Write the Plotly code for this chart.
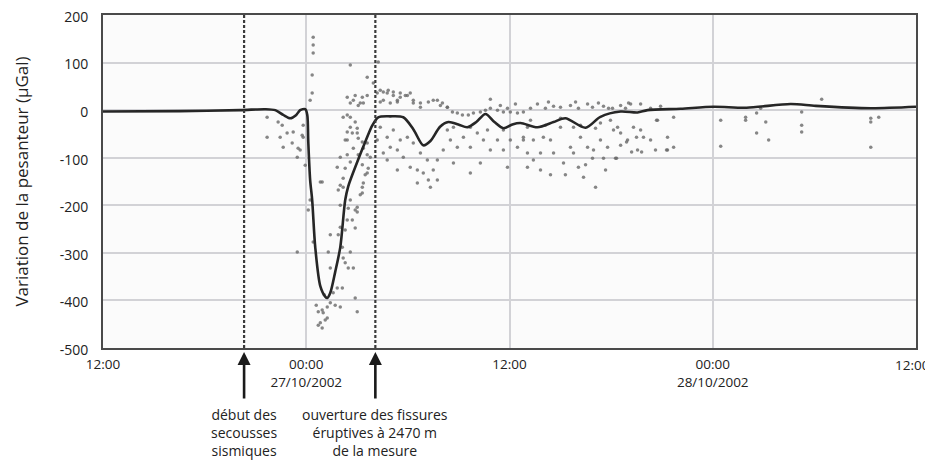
import pandas as pd
import plotly.graph_objects as go

# ---- data (hours after 26/10/2002 12:00, gravity variation in µGal) ----
line_h = [0, 4.55, 8.1, 9.57, 10.17, 10.64, 11.05, 11.41, 11.64, 11.94, 12.06,
          12.12, 12.23, 12.35, 12.53, 12.83, 13.12, 13.24, 13.42, 13.71, 14.01,
          14.30, 14.48, 15.01, 15.48, 15.90, 16.25, 16.96, 17.73, 18.32, 18.91,
          19.33, 19.90, 20.39, 20.98, 21.51, 22.04, 22.58, 23.11, 23.64, 24.17,
          24.65, 25.65, 26.60, 27.30, 28.49, 29.37, 30.56, 31.56, 32.15, 34.10,
          36.05, 38.00, 40.60, 42.08, 45.33, 48.0]
line_v = [-3, -2, 0, 2, 0, -10, -17, -10, 0, 2, -10,
          -67, -147, -189, -288, -370, -392, -395, -384, -340, -288,
          -189, -160, -109, -67, -32, -15, -13, -15, -40, -74,
          -65, -35, -25, -30, -36, -25, -8, -25, -38, -30,
          -27, -36, -25, -17, -37, -14, -3, -5, 0, 3,
          7, 5, 13, 9, 4, 7]

scatter_h = [
    9.69, 9.69, 10.34, 10.46, 10.58, 10.64, 10.87, 11.17, 11.23, 11.47, 11.52, 11.64,
    11.76, 11.82, 11.82, 11.94, 12.23, 12.35, 12.35, 12.41, 12.41, 12.41, 11.47, 12.94,
    12.23, 12.12, 12.41, 12.71, 12.94, 13.00, 13.24, 13.42, 12.83, 12.71, 13.59, 13.83,
    13.42, 13.30, 13.42, 13.89, 14.01, 14.13, 14.18, 14.30, 14.48, 14.78, 14.60, 14.30,
    14.42, 14.48, 14.72, 14.89, 14.89, 15.01, 15.19, 15.31, 15.37, 14.01, 13.89, 14.01,
    14.89, 15.01, 14.01, 14.13, 13.12, 12.94, 12.59, 13.24, 13.71, 13.06,
    14.60, 15.60, 14.89, 15.31, 15.60, 15.07, 14.60, 15.37, 14.42, 14.60, 14.89, 15.01,
    14.42, 14.72, 15.07, 15.31, 14.30, 14.78, 14.42, 14.60, 14.30, 14.18, 15.07, 15.37,
    15.60, 15.31, 15.66, 15.48, 16.25,
    15.96, 16.19, 16.55, 16.84, 17.14, 17.55, 17.85, 18.14, 16.37, 16.96, 17.38, 18.32,
    18.74, 19.21, 19.74, 20.04, 20.33, 20.63, 20.92, 21.22, 21.57, 21.87, 22.28, 22.58,
    22.87, 23.29, 23.64, 24.05, 24.47, 24.82,
    16.37, 16.78, 17.14, 17.55, 16.96, 17.38, 16.55, 16.19, 17.97, 18.32, 17.73, 18.14,
    18.56, 18.91, 19.21, 19.50, 19.33, 19.74, 20.09, 20.51, 20.92, 21.28, 21.69, 22.10,
    22.46, 22.87, 23.29, 23.64, 24.05, 24.47, 24.82, 20.33, 20.69, 21.69, 22.70, 23.64,
    18.74, 19.15, 20.69, 21.69, 22.28, 23.88, 17.38, 16.78, 19.74, 18.56, 22.87,
    25.65, 26.60, 27.60, 28.61, 29.55, 30.56, 31.15, 26.12, 28.07, 30.08, 32.92,
    24.82, 25.41, 26.00, 26.42, 25.06, 25.83, 26.60, 25.06, 25.83, 26.42, 27.19, 27.60,
    27.78, 28.19, 28.61, 28.96, 29.37, 29.79, 30.14, 30.38, 30.56, 28.07, 28.37, 28.90,
    29.08, 29.55, 30.26, 30.97, 31.32, 31.74, 31.56, 31.91, 33.33, 33.33, 33.69, 32.74,
    27.78, 27.01, 25.06, 29.37,
    31.03, 31.21, 31.80, 31.50, 30.91, 32.68, 33.27, 33.69, 30.32, 36.47, 36.47, 37.94,
    37.94, 38.59, 38.59, 39.13, 39.30, 41.25, 41.25, 41.25, 42.43, 45.33, 45.33, 45.33,
    45.80, 38.83,
    16.37, 16.78, 17.14, 17.55, 17.97, 16.55, 17.38, 18.32, 18.74, 19.50, 19.92, 20.33,
    14.42, 14.78, 15.19, 14.18, 14.60, 15.01, 14.42, 14.01, 13.83, 14.18, 14.60, 15.01,
    15.31, 15.60, 15.78, 15.60, 12.83,
    23.46, 23.88, 24.35, 25.24, 26.30, 27.01, 27.90, 28.90, 29.25, 29.85, 30.85, 31.74,
    32.33,
    25.24, 26.12, 27.01, 28.19, 29.08, 29.96, 25.41, 27.30, 28.49, 29.67, 30.56, 32.33,
    32.62,
]
scatter_v = [
    -15, -57, -25, -57, -32, -78, -48, -69, -46, -99, -80, -84,
    -53, -32, -57, -116, 21, 36, 74, 153, 137, 120, -298, -151,
    -189, -210, -277, -424, -420, -426, -414, -405, -447, -452, -384, -374,
    -332, -298, -262, -262, -246, -288, -311, -321, -332, -332, -298, -252,
    -231, -206, -231, -248, -210, -214, -178, -162, -153, -200, -168, -158,
    -395, -424, -414, -374, -441, -458, -410, -437, -410, -388,
    95, 69, 31, 27, 31, 10, 15, 15, -10, -15, -25, -38,
    -46, -48, -59, -67, -63, -80, -94, -109, -122, -143, -94, -80,
    -94, -115, -122, -136, 101,
    57, 36, 38, 42, 31, 36, 31, 36, 17, 15, 21, 15,
    6, 17, 21, 15, 6, -4, -6, -10, -10, -6, -4, 0,
    4, 0, -4, -4, -6, -4,
    -36, -57, -42, -63, -78, -84, -90, -63, -57, -69, -99, -120,
    -126, -132, -147, -126, -162, -105, -84, -63, -78, -57, -78, -48,
    -63, -84, -63, -84, -63, -78, -63, -42, -36, -36, -42, -42,
    -90, -105, -111, -132, -111, -120, -126, -105, -147, -153, 23,
    13, 8, 10, 13, 8, 10, 13, 4, 4, 4, 8,
    -57, -63, -57, -63, -90, -90, -90, -120, -126, -136, -111, -78,
    -90, -57, -78, -84, -63, -78, -42, -36, -48, -120, -141, -101,
    -162, -101, -101, -63, -36, -42, -84, -57, -57, -84, -78, -21,
    -36, -36, -36, -27,
    15, -88, -88, -57, -67, -21, -84, -15, -101, -21, -76, -15,
    -21, -6, -48, -25, -63, -4, -32, -46, 23, -17, -25, -78,
    -15, 4,
    42, 36, 38, 27, 31, 21, 17, 21, 15, 21, 10, 6,
    27, 21, 15, -15, -36, -48, -63, -99, -120, -162, -189, -204,
    -174, -132, -99, -69, -151,
    10, 4, 13, 4, 17, 6, 17, 6, 15, 4, 4, 13,
    4,
    -21, -32, -17, -32, -38, -21, -105, -136, -115, -126, -74, -63,
    -84,
]

event_hours = [8.33, 16.08]
event_labels = ["début des<br>secousses<br>sismiques",
                "ouverture des fissures<br>éruptives à 2470 m<br>de la mesure"]

tick_hours = [0, 12, 24, 36, 48]
tick_text = ["12:00", "00:00<br>27/10/2002", "12:00", "00:00<br>28/10/2002", "12:00"]
y_ticks = [200, 100, 0, -100, -200, -300, -400, -500]
y_tick_text = ["200", "100", "0", "-100", "-200", "-300", "-400", "-500"]

FONT = "Open Sans, sans-serif"
start = pd.Timestamp("2002-10-26 12:00")
to_t = lambda hs: [start + pd.Timedelta(hours=h) for h in hs]

fig = go.Figure()
fig.add_trace(go.Scatter(
    x=to_t(scatter_h), y=scatter_v, mode="markers",
    marker=dict(size=3.5, color="rgba(105,105,105,0.8)"),
    showlegend=False, hoverinfo="skip"))
fig.add_trace(go.Scatter(
    x=to_t(line_h), y=line_v, mode="lines",
    line=dict(color="#262626", width=2.6, shape="spline", smoothing=0.8),
    showlegend=False))

for t in to_t(event_hours):
    fig.add_shape(type="line", xref="x", yref="paper", x0=t, x1=t, y0=0, y1=1,
                  line=dict(color="#3a3a3a", width=2.2, dash="3px,2px"))

for t, lab in zip(to_t(event_hours), event_labels):
    fig.add_annotation(x=t, y=-0.012, xref="x", yref="paper", text="",
                       showarrow=True, arrowhead=2, arrowsize=1, arrowwidth=2.6,
                       arrowcolor="#1a1a1a", ax=0, ay=48)
    fig.add_annotation(x=t, y=-0.165, xref="x", yref="paper", text=lab,
                       showarrow=False, yanchor="top", xanchor="center", align="center",
                       font=dict(family=FONT, size=14, color="#222"))

# last tick label sits at the window edge: draw it right-aligned so it is not cut
x_tick_labels = tick_text[:-1] + [""]
fig.add_annotation(x=1.0197, y=0, xref="paper", yref="paper", text=tick_text[-1],
                   showarrow=False, xanchor="right", yanchor="top", yshift=-6,
                   font=dict(family=FONT, size=13.5, color="#222"))

fig.update_xaxes(
    type="date", range=[start, start + pd.Timedelta(hours=48)],
    tickvals=to_t(tick_hours), ticktext=x_tick_labels, ticks="",
    showgrid=True, gridcolor="#d2d2d6", gridwidth=1.5,
    showline=True, linecolor="#4a4a4a", linewidth=2, mirror=True,
    tickfont=dict(family=FONT, size=13.5, color="#222"), ticklabelstandoff=3,
    zeroline=False, automargin=False, ticklabeloverflow="allow")
fig.update_yaxes(
    range=[-500, 200], tickvals=y_ticks, ticktext=y_tick_text, ticks="",
    showgrid=True, gridcolor="#d2d2d6", gridwidth=1.5,
    showline=True, linecolor="#4a4a4a", linewidth=2, mirror=True,
    zeroline=False, ticklabelstandoff=10, ticklabelshift=2,
    automargin=False, ticklabeloverflow="allow",
    tickfont=dict(family=FONT, size=14, color="#222"),
    title=dict(text="Variation de la pesanteur (μGal)", standoff=27,
               font=dict(family=FONT, size=17, color="#222")))

# the page body adds an 8px offset; the plot area is placed to match the window
fig.update_layout(
    width=933, height=454,
    margin=dict(l=95, r=25, t=7, b=114),
    plot_bgcolor="#fbfbfb", paper_bgcolor="white")

fig.write_html("out.html")
